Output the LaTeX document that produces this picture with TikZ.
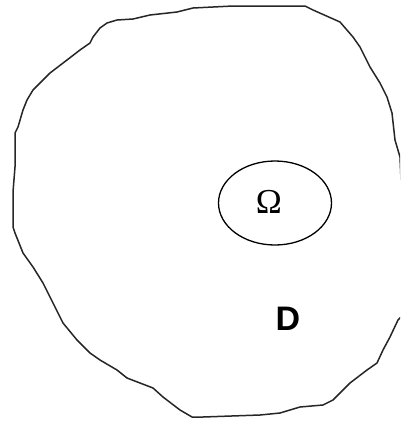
\documentclass[tikz,border=0pt]{standalone}
\usepackage{fontspec}
\newfontfamily\timesfont{Liberation Serif}
\newfontfamily\arialfont{Liberation Sans}
\usetikzlibrary{shapes.geometric}
\tikzset{
  outline/.style={draw=black!85, line width=1.5pt, line join=round},
  region/.style={draw, ellipse, line width=1.3pt, minimum width=113pt, minimum height=84pt, inner sep=0pt},
}
\begin{document}
\begin{tikzpicture}[x=1pt,y=-1pt]
\useasboundingbox (0,0) rectangle (400,421);
\clip (0,0) rectangle (400,421);
\draw[outline] (233,6) -- (305,6) -- (313,10) -- (340,22) -- (353,37) -- (360,47) -- (370,67) -- (380,83) -- (387,97) -- (392,113) -- (395,140) -- (400,157) -- (401,180) -- (404,250) -- (401,317) -- (398,320) -- (390,337) -- (383,350) -- (377,363) -- (367,370) -- (350,383) -- (333,400) -- (323,405) -- (300,407) -- (280,413) -- (260,415) -- (203,417) -- (192,417) -- (180,410) -- (163,397) -- (153,388) -- (140,383) -- (127,378) -- (117,370) -- (100,360) -- (90,353) -- (77,340) -- (63,323) -- (53,303) -- (43,283) -- (33,267) -- (23,253) -- (15,233) -- (13,227) -- (13,192) -- (15,167) -- (15,133) -- (18,127) -- (23,110) -- (27,100) -- (33,90) -- (40,83) -- (50,73) -- (67,60) -- (80,50) -- (90,43) -- (93,37) -- (100,28) -- (107,23) -- (117,20) -- (133,19) -- (150,15) -- (177,12) -- (193,8) -- (213,7) -- cycle;
\node[region] (omega) at (275,203) {};
\node[font=\timesfont\fontsize{35}{40}\selectfont] (omlabel) at (269,202) {Ω};
\node[font=\arialfont\bfseries\fontsize{34}{38}\selectfont] (dlabel) at (288,319) {D};
\end{tikzpicture}
\end{document}
